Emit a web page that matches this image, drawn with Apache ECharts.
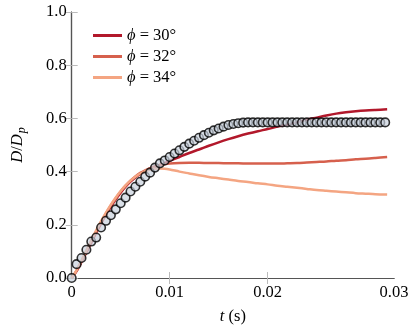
<!DOCTYPE html>
<html lang="en">
<head>
    <meta charset="UTF-8">
    <title>D/Dp vs t</title>
    <script src="https://cdn.jsdelivr.net/npm/echarts@6.0.0/dist/echarts.min.js"></script>
    <style>
        html, body { margin: 0; padding: 0; background: #fff; }
        #chart { width: 415px; height: 330px; }
    </style>
</head>
<body>
    <div id="chart"></div>
    <script type="text/javascript">
    // measured points (circles), sampled every 0.5 ms
    const circleStep = 0.0005;
    const circleD = [0, 0.052, 0.075, 0.106, 0.137, 0.152, 0.19, 0.215, 0.236, 0.258,
        0.281, 0.302, 0.325, 0.343, 0.362, 0.381, 0.396, 0.415, 0.431, 0.442,
        0.455, 0.468, 0.480, 0.493, 0.505, 0.516, 0.527, 0.537, 0.546, 0.555,
        0.562, 0.569, 0.575, 0.579, 0.582, 0.584,
        0.585, 0.585, 0.585, 0.585, 0.585, 0.585, 0.585, 0.585, 0.585, 0.585,
        0.585, 0.585, 0.585, 0.585, 0.585, 0.585, 0.585, 0.585, 0.585, 0.585,
        0.585, 0.585, 0.585, 0.585, 0.585, 0.585, 0.585, 0.585, 0.585];

    // simulation curves
    const tLine = [0, 0.0005, 0.001, 0.0015, 0.002, 0.0025, 0.003, 0.0035, 0.004, 0.0045,
        0.005, 0.0055, 0.006, 0.0065, 0.007, 0.0075, 0.008, 0.0085, 0.009, 0.0095,
        0.01, 0.011, 0.012, 0.013, 0.014, 0.015, 0.016, 0.017, 0.018, 0.019,
        0.02, 0.021, 0.022, 0.023, 0.024, 0.025, 0.026, 0.027, 0.028, 0.029,
        0.03, 0.031, 0.0322];
    const phi30 = [0, 0.026, 0.06, 0.096, 0.133, 0.17, 0.205, 0.238, 0.268, 0.296,
        0.321, 0.343, 0.362, 0.378, 0.391, 0.402, 0.411, 0.418, 0.425, 0.432,
        0.44, 0.455, 0.47, 0.483, 0.497, 0.51, 0.522, 0.533, 0.543, 0.552,
        0.56, 0.569, 0.577, 0.585, 0.595, 0.603, 0.611, 0.618, 0.623, 0.627,
        0.63, 0.632, 0.634];
    const phi32 = [0, 0.028, 0.063, 0.1, 0.138, 0.175, 0.21, 0.243, 0.273, 0.3,
        0.325, 0.347, 0.366, 0.382, 0.395, 0.405, 0.413, 0.42, 0.425, 0.428,
        0.43, 0.432, 0.433, 0.433, 0.432, 0.432, 0.431, 0.431, 0.430, 0.430,
        0.430, 0.430, 0.431, 0.432, 0.434, 0.436, 0.438, 0.441, 0.443, 0.446,
        0.448, 0.451, 0.455];
    const phi34 = [0, 0.03, 0.066, 0.104, 0.142, 0.179, 0.214, 0.246, 0.276, 0.303,
        0.327, 0.348, 0.366, 0.381, 0.393, 0.402, 0.408, 0.411, 0.412, 0.411,
        0.408, 0.400, 0.393, 0.386, 0.380, 0.375, 0.370, 0.365, 0.361, 0.356,
        0.352, 0.347, 0.343, 0.339, 0.335, 0.331, 0.328, 0.325, 0.322, 0.319,
        0.317, 0.315, 0.314];

    const seriesNames = ['ϕ = 30°', 'ϕ = 32°', 'ϕ = 34°'];
    const seriesColors = ['#b2182b', '#d6604d', '#f4a582'];
    const xTickValues = [0.01, 0.02];
    const xLabelValues = [0, 0.01, 0.02, 0.0329];
    const xLabelTexts = ['0', '0.01', '0.02', '0.03'];
    const xMax = 0.0329;

    const font = "'Liberation Serif', 'DejaVu Serif', serif";
    const fs = 16.5;
    const frameColor = '#555';
    const tickColor = '#bbb';

    function pairs(xs, ys) {
        return ys.map((y, i) => [xs[i], y]);
    }

    var chart = echarts.init(document.getElementById('chart'));

    // lighter curves drawn over darker ones in the rising part
    var lineSeries = [phi30, phi32, phi34].map((ys, i) => ({
        name: seriesNames[i],
        type: 'line',
        data: pairs(tLine, ys),
        showSymbol: false,
        smooth: 0.3,
        lineStyle: { color: seriesColors[i], width: 2.5 },
        itemStyle: { color: seriesColors[i] },
        z: 2 + i
    }));

    var italic = { fontFamily: font, fontSize: fs, fontStyle: 'italic', color: '#000' };

    var option = {
        animation: false,
        textStyle: { fontFamily: font },
        grid: { left: 71.7, right: 21, top: 12, bottom: 50.7 },
        legend: {
            orient: 'vertical',
            left: 88,
            top: 22,
            itemGap: 4,
            itemWidth: 29,
            itemHeight: 3,
            icon: 'rect',
            data: seriesNames,
            formatter: (name) => name.replace('ϕ', '{i|ϕ}'),
            itemStyle: { borderWidth: 0 },
            textStyle: {
                fontFamily: font, fontSize: fs, color: '#000',
                rich: { i: italic }
            }
        },
        xAxis: [
            {
                type: 'value', min: 0, max: xMax,
                name: '{i|t} (s)',
                nameLocation: 'middle',
                nameGap: 30,
                nameTextStyle: {
                    fontFamily: font, fontSize: fs, color: '#000',
                    rich: { i: italic }
                },
                axisLine: { show: true, lineStyle: { color: frameColor, width: 1.2 } },
                axisTick: { show: true, inside: true, length: 6, customValues: xTickValues,
                    lineStyle: { color: tickColor } },
                axisLabel: {
                    customValues: xLabelValues,
                    margin: 6,
                    fontFamily: font, fontSize: fs, color: '#000',
                    formatter: (v) => {
                        var k = xLabelValues.findIndex((x) => Math.abs(x - v) < 1e-6);
                        return k >= 0 ? xLabelTexts[k] : '';
                    }
                },
                splitLine: { show: false }
            },
            {
                type: 'value', min: 0, max: xMax, position: 'top',
                axisLine: { show: true, lineStyle: { color: frameColor, width: 1.2 } },
                axisTick: { show: true, inside: true, length: 6, customValues: xTickValues,
                    lineStyle: { color: tickColor } },
                axisLabel: { show: false },
                splitLine: { show: false }
            }
        ],
        yAxis: [
            {
                type: 'value', min: 0, max: 1, interval: 0.2,
                name: '{i|D}/{i|D}{s|p}',
                nameLocation: 'middle',
                nameRotate: 90,
                nameGap: 44,
                nameTextStyle: {
                    fontFamily: font, fontSize: fs, color: '#000',
                    rich: {
                        i: italic,
                        s: { fontFamily: font, fontSize: 12, fontStyle: 'italic', color: '#000',
                            padding: [9, 0, 0, 1] }
                    }
                },
                axisLine: { show: true, lineStyle: { color: frameColor, width: 1.2 } },
                axisTick: { show: true, inside: true, length: 6, lineStyle: { color: tickColor } },
                axisLabel: {
                    margin: 5,
                    fontFamily: font, fontSize: fs, color: '#000',
                    formatter: (v) => v.toFixed(1)
                },
                splitLine: { show: false }
            },
            {
                type: 'value', min: 0, max: 1, interval: 0.2, position: 'right',
                axisLine: { show: true, lineStyle: { color: frameColor, width: 1.2 } },
                axisTick: { show: true, inside: true, length: 6, lineStyle: { color: tickColor } },
                axisLabel: { show: false },
                splitLine: { show: false }
            }
        ],
        series: lineSeries.concat([{
            name: 'data',
            type: 'scatter',
            data: circleD.map((y, i) => [i * circleStep, y]),
            symbol: 'circle',
            symbolSize: 8.5,
            itemStyle: { color: 'rgba(200,208,220,0.85)', borderColor: '#000', borderWidth: 1.6 },
            z: 6
        }])
    };
    chart.setOption(option);
    </script>
</body>
</html>
